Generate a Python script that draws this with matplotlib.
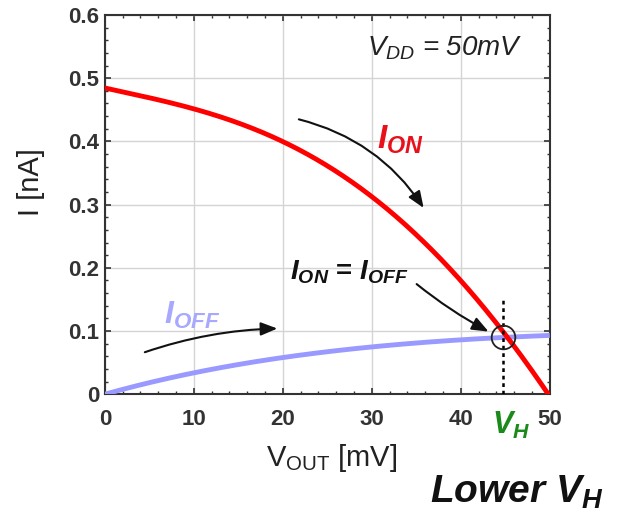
import matplotlib
matplotlib.use("Agg")
import matplotlib.pyplot as plt
import numpy as np
from matplotlib.ticker import AutoMinorLocator

plt.rcParams['font.family'] = ['Liberation Sans', 'DejaVu Sans']
plt.rcParams['mathtext.fontset'] = 'custom'
plt.rcParams['mathtext.rm'] = 'Liberation Sans'
plt.rcParams['mathtext.it'] = 'Liberation Sans:italic'
plt.rcParams['mathtext.bf'] = 'Liberation Sans:bold'
plt.rcParams['mathtext.bfit'] = 'Liberation Sans:italic:bold'

# Data
vout = [0, 5, 10, 15, 20, 25, 30, 35, 40, 45, 50]
i_on = [0.483, 0.472, 0.452, 0.428, 0.398, 0.360, 0.313, 0.255, 0.185, 0.085, 0.0]
i_off = [0.0, 0.018, 0.034, 0.047, 0.058, 0.067, 0.075, 0.081, 0.086, 0.090, 0.093]
v_h = 44.7
i_h = 0.09
x_ticks = [0, 10, 20, 30, 40, 50]
y_ticks = [0, 0.1, 0.2, 0.3, 0.4, 0.5, 0.6]
y_tick_labels = ['0', '0.1', '0.2', '0.3', '0.4', '0.5', '0.6']

fig = plt.figure(figsize=(6.24, 5.18), dpi=100)
ax = fig.add_axes([0.168, 0.239, 0.713, 0.732])

xs = np.linspace(0, 50, 300)
c_on = np.polyfit(vout, i_on, 4)
c_off = np.polyfit(vout, i_off, 4)
ion_s = np.polyval(c_on, xs)
ioff_s = np.polyval(c_off, xs)

ax.plot(xs, ioff_s, color='#9999ff', lw=3.5, solid_capstyle='butt', zorder=3)
ax.plot(xs, ion_s, color='#ff0000', lw=3.5, solid_capstyle='butt', zorder=4)

ax.set_xlim(0, 50)
ax.set_ylim(0, 0.6)
ax.set_xticks(x_ticks)
ax.set_yticks(y_ticks)
ax.set_xticklabels([str(t) for t in x_ticks])
ax.set_yticklabels(y_tick_labels)
ax.xaxis.set_minor_locator(AutoMinorLocator(5))
ax.yaxis.set_minor_locator(AutoMinorLocator(5))
ax.tick_params(which='both', direction='in', top=True, right=True, color='#333333')
ax.tick_params(which='major', length=4, width=1.2, labelsize=16, labelcolor='#333333')
ax.tick_params(axis='x', which='major', pad=11)
ax.tick_params(axis='y', which='major', pad=4)
ax.tick_params(which='minor', length=2.5, width=1.0)
for lab in ax.get_xticklabels() + ax.get_yticklabels():
    lab.set_fontweight('bold')
ax.grid(True, which='major', color='#d4d4d4', lw=1.0)
for s in ax.spines.values():
    s.set_linewidth(1.5)
    s.set_color('#333333')

ax.set_xlabel(r'V$_{\mathrm{OUT}}$ [mV]', fontsize=21, color='#222222')
ax.set_ylabel('I [nA]', fontsize=21, color='#222222')
ax.xaxis.label.set_va('center')
ax.yaxis.label.set_va('center')
ax.xaxis.set_label_coords(0.51, -0.168)
ax.yaxis.set_label_coords(-0.166, 0.56)

# dotted line and circle at intersection
ax.plot([v_h, v_h], [0, 0.153], color='black', lw=1.8, ls=(0, (1.5, 1.5)), zorder=5)
ax.plot([v_h], [i_h], marker='o', ms=17, mfc='none', mec='#222222', mew=1.3, zorder=6)

ax.text(38.2, 0.547, r'$V_{DD}$ = 50mV', fontsize=20, style='italic', ha='center', va='center', color='#222222')
ax.text(33.2, 0.402, r'$\mathbfit{I}_{\mathbfit{ON}}$', fontsize=24, color='#e8101a', ha='center', va='center')
ax.text(27.5, 0.193, r'$\mathbfit{I}_{\mathbfit{ON}}$ = $\mathbfit{I}_{\mathbfit{OFF}}$', fontsize=20, color='#111111', ha='center', va='center', fontweight='bold')
ax.text(9.8, 0.125, r'$\mathbfit{I}_{\mathbfit{OFF}}$', fontsize=23, color='#a8a8ff', ha='center', va='center')
ax.text(45.7, -0.05, r'$\mathbfit{V}_{\mathbfit{H}}$', fontsize=22, color='#1a8a1a', ha='center', va='center')

arrow = dict(arrowstyle='-|>,head_length=1.0,head_width=0.4', color='#111111', lw=1.5)
ax.annotate('', xy=(36.0, 0.291), xytext=(21.5, 0.436),
            arrowprops=dict(arrow, connectionstyle='arc3,rad=-0.2'))
ax.annotate('', xy=(19.7, 0.104), xytext=(4.2, 0.065),
            arrowprops=dict(arrow, connectionstyle='arc3,rad=-0.08'))
ax.annotate('', xy=(43.4, 0.097), xytext=(34.8, 0.177),
            arrowprops=dict(arrow, connectionstyle='arc3,rad=0.05'))

fig.text(0.829, 0.05, r'$\mathbfit{Lower\ V}_{\mathbfit{H}}$', fontsize=28, color='#111111', ha='center', va='center')

fig.savefig('out.png', dpi=100)
